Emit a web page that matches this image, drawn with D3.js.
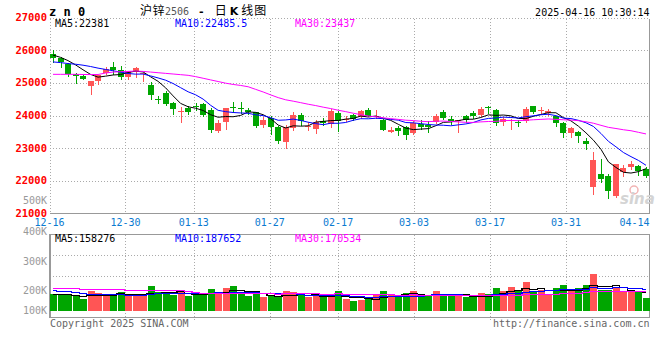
<!DOCTYPE html>
<html><head><meta charset="utf-8">
<script src="https://cdn.jsdelivr.net/npm/d3@7"></script>
<style>html,body{margin:0;padding:0;background:#fff;}svg{display:block;}</style>
</head><body><svg id="c" width="660" height="360"></svg>
<script>
// ---------- DATA ----------
const dates = ["12-16","12-17","12-18","12-19","12-20","12-23","12-24","12-25","12-26","12-27","12-30","12-31",
"01-02","01-03","01-06","01-07","01-08","01-09","01-10","01-13","01-14","01-15","01-16","01-17","01-20","01-21","01-22","01-23","01-24","01-27",
"02-05","02-06","02-07","02-10","02-11","02-12","02-13","02-14","02-17","02-18","02-19","02-20","02-21","02-24","02-25","02-26","02-27","02-28",
"03-03","03-04","03-05","03-06","03-07","03-10","03-11","03-12","03-13","03-14","03-17","03-18","03-19","03-20","03-21","03-24","03-25","03-26","03-27","03-28","03-31",
"04-01","04-02","04-03","04-07","04-08","04-09","04-10","04-11","04-14","04-15","04-16"];
const openP = [25890,25760,25580,25270,25210,24890,25050,25300,25500,25400,
25170,25330,25290,24940,24520,24690,24370,24110,24230,24290,
24360,24180,23530,23790,24260,24240,24160,24100,23720,23910,
23640,23200,23610,24020,23660,23600,23840,23740,24090,23850,
24020,23950,24170,23950,23870,23480,23630,23640,23460,23750,
23720,23800,24120,23900,23820,23970,24090,24030,24250,24170,
23800,23860,23800,23820,24280,24160,24070,23970,23770,23460,
23510,23230,21800,22200,22150,21540,22260,22420,22440,22360];
const highP = [26010,25780,25620,25300,25240,25060,25240,25470,25640,25520,
25360,25480,25300,25040,24610,24740,24420,24250,24300,24380,
24380,24230,23860,24240,24400,24400,24230,24120,23950,23970,
23680,23710,24120,24070,23790,23870,23920,24190,24140,23990,
24050,24170,24240,24170,23890,23640,23680,23680,23820,23850,
23820,24050,24170,23990,23870,24020,24150,24270,24300,24190,
23950,23890,23870,24250,24300,24250,24190,23990,23790,23660,
23540,23310,22880,22660,22210,22510,22490,22620,22490,22420];
const lowP = [25650,25500,25210,25010,25110,24650,24960,25270,25260,25130,
25110,25170,25070,24510,24380,24310,24040,23790,24050,24170,
23990,23500,23500,23600,24120,24090,24050,23640,23640,23440,
23170,22990,23560,23700,23560,23450,23720,23660,23540,23820,
23870,23920,23970,23920,23550,23480,23410,23290,23430,23580,
23480,23770,23890,23750,23510,23800,23920,23990,24070,23720,
23720,23580,23680,23790,24070,24070,24020,23680,23330,23330,
23200,22970,21600,21950,21460,21520,22150,22360,22190,22130];
const closeP = [25760,25650,25270,25200,25120,25050,25230,25420,25380,25190,
25350,25450,25300,24630,24500,24360,24210,24150,24120,24270,
24020,23560,23760,24230,24240,24220,24100,23690,23870,23640,
23230,23660,24020,23820,23690,23800,23770,24140,23840,23900,
23900,24140,23990,23990,23560,23570,23540,23410,23760,23640,
23640,23990,23920,23820,23850,23850,23990,24190,24220,23770,
23900,23870,23780,24210,24120,24180,24140,23770,23460,23630,
23360,23130,22640,22070,21700,22510,22390,22520,22290,22150];
const volume = [146000,138000,138000,124000,99000,169000,150000,138000,138000,158000,
138000,138000,127000,209000,158000,158000,138000,175000,124000,138000,
138000,183000,158000,192000,209000,144000,124000,158000,116000,124000,
116000,166000,158000,138000,116000,127000,116000,138000,169000,99000,
82000,90000,112000,138000,169000,138000,118000,150000,169000,124000,
124000,169000,146000,138000,127000,118000,118000,150000,141000,194000,
169000,200000,175000,243000,158000,177000,138000,192000,217000,169000,
192000,217000,310000,177000,177000,200000,169000,158000,158000,110000];
// moving-average values for days whose window starts before the first shown day
const ma5Lead = [25850,25780,25680,25550];
const ma10Lead = [25640,25620,25590,25570,25540,25500,25450,25410,25370];
const ma30Lead = [25260,25260,25260,25260,25255,25255,25255,25300,25330,25340,
25350,25360,25350,25330,25310,25290,25270,25250,25230,25190,
25140,25090,25040,24990,24950,24920,24880,24800,24720];
const vma5Lead = [146000,142000,140000,136000];
const vma10Lead = [175000,170000,165000,160000,150000,145000,142000,140000,140000];
const vma30Lead = [192000,192000,192000,192000,182000,182000,182000,182000,182000,182000,
175000,175000,175000,180000,180000,180000,180000,180000,165000,160000,
155000,152000,150000,150000,150000,150000,150000,149000,148000];
const dateTicks = ["12-16","12-30","01-13","01-27","02-17","03-03","03-17","03-31","04-14"];
const priceTicks = [27000,26000,25000,24000,23000,22000,21000];
const volTickLabels = ["500K","400K","300K","200K","100K"];
const volTickValues = [500000,400000,300000,200000,100000];
const priceLegend = ["MA5:22381","MA10:22485.5","MA30:23437"];
const volLegend = ["MA5:158276","MA10:187652","MA30:170534"];
const titleParts = ["沪锌","2506","-","日","K","线图"];
const symbolText = "z n 0";
const stampText = "2025-04-16 10:30:14";
const footLeft = "Copyright 2025 SINA.COM";
const footRight = "http://finance.sina.com.cn";

// ---------- LAYOUT ----------
const L = 50, R = 649.5;
const pTop = 18.5, pBot = 213.5;
const vTop = 234.5, vBot = 317.5;
const RED = "#ff5555", GREEN = "#00a600", GRID = "#aaaaaa", BORDER = "#999999";
const MONO = "'DejaVu Sans Mono', monospace";
const CJK = "'Noto Sans CJK SC', sans-serif";
const maColors = ["#000000","#0000ff","#ff00ff"];

const svg = d3.select("#c");
const xC = d3.scalePoint().domain(dates).range([53, 646]);
const xG = d3.scalePoint().domain(dates).range([49.5, 649.5]);
const yP = d3.scaleLinear().domain([21000, 27000]).range([213.5, 17.5]);
const yV = d3.scaleLinear().domain([0, 650000]).range([311, 234.1]);
const yVL = d3.scaleLinear().domain([100000,200000,300000,400000,500000]).range([310,290,261,231,200.5]);

function ma(arr, n, lead){
  return arr.map((v,i)=> i < n-1 ? lead[i] : d3.mean(arr.slice(i-n+1, i+1)));
}
const pMA = [ma(closeP,5,ma5Lead), ma(closeP,10,ma10Lead), ma(closeP,30,ma30Lead)];
const vMA = [ma(volume,5,vma5Lead), ma(volume,10,vma10Lead), ma(volume,30,vma30Lead)];
const px = v => Math.round(v) + 0.5;

// ---------- GRID ----------
const gridDates = dateTicks.slice(1, -1);
const g = svg.append("g").attr("shape-rendering","crispEdges");
priceTicks.filter(t => t < 27000 && t > 21000).forEach(t => {
  g.append("line").attr("x1",L).attr("x2",R).attr("y1",px(yP(t))).attr("y2",px(yP(t)))
   .attr("stroke",GRID).attr("stroke-dasharray","1,2");
});
gridDates.forEach(d => {
  const x = px(xG(d));
  g.append("line").attr("x1",x).attr("x2",x).attr("y1",pTop).attr("y2",pBot).attr("stroke",GRID).attr("stroke-dasharray","1,2");
  g.append("line").attr("x1",x).attr("x2",x).attr("y1",vTop).attr("y2",vBot+3).attr("stroke",GRID).attr("stroke-dasharray","1,2");
});
[1,2].forEach(k => {
  const y = px(vTop + (vBot - vTop) * k / 4);
  g.append("line").attr("x1",L).attr("x2",R).attr("y1",y).attr("y2",y).attr("stroke",GRID).attr("stroke-dasharray","1,2");
});
// borders
g.append("line").attr("x1",L).attr("x2",R).attr("y1",pTop).attr("y2",pTop).attr("stroke",GRID).attr("stroke-dasharray","1,2");
g.append("line").attr("x1",L).attr("x2",L).attr("y1",pTop).attr("y2",pBot).attr("stroke",GRID).attr("stroke-dasharray","1,2");
g.append("line").attr("x1",R).attr("x2",R).attr("y1",pTop).attr("y2",pBot).attr("stroke",BORDER);
g.append("line").attr("x1",L).attr("x2",R).attr("y1",pBot).attr("y2",pBot).attr("stroke",BORDER).attr("stroke-width",1.5);
g.append("rect").attr("x",L).attr("y",vTop).attr("width",R-L).attr("height",vBot-vTop).attr("fill","none").attr("stroke",BORDER).attr("stroke-width",1.2);

// ---------- WATERMARK ----------
const wm = svg.append("g");
wm.append("circle").attr("cx",634).attr("cy",190).attr("r",4).attr("fill","none").attr("stroke","#f2b4b4").attr("stroke-width",1.5);
wm.append("text").attr("x",620).attr("y",204).attr("font-family","'DejaVu Sans', sans-serif").attr("font-style","italic")
  .attr("font-weight","bold").attr("font-size",15).attr("fill","#d4d4d4").text("sina");

// ---------- CANDLES ----------
const cg = svg.append("g").attr("shape-rendering","crispEdges");
dates.forEach((d,i) => {
  const o = openP[i], c = closeP[i], up = c >= o;
  const col = up ? RED : GREEN;
  const r = Math.round(xC(d));
  cg.append("line").attr("x1",r+0.5).attr("x2",r+0.5).attr("y1",Math.round(yP(highP[i]))).attr("y2",Math.round(yP(lowP[i]))+1).attr("stroke",col);
  const yt = Math.round(yP(Math.max(o,c))), yb = Math.round(yP(Math.min(o,c)));
  cg.append("rect").attr("x",r-3).attr("y",yt).attr("width",6).attr("height",Math.max(1,yb-yt)).attr("fill",col);
});
// price MA lines
pMA.forEach((arr,k) => {
  svg.append("path").datum(arr).attr("fill","none").attr("stroke",maColors[k]).attr("stroke-width",1)
    .attr("d", d3.line().x((v,i)=>xC(dates[i])).y(v=>yP(v)));
});

// ---------- VOLUME ----------
const vg = svg.append("g").attr("shape-rendering","crispEdges");
dates.forEach((d,i) => {
  const col = closeP[i] >= openP[i] ? RED : GREEN;
  const r = Math.round(xC(d));
  const yt = Math.round(yV(volume[i]));
  vg.append("rect").attr("x",r-3).attr("y",yt).attr("width",7).attr("height",Math.round(yV(0))-yt).attr("fill",col);
});
vMA.forEach((arr,k) => {
  svg.append("path").datum(arr).attr("fill","none").attr("stroke",maColors[k]).attr("stroke-width",1.3)
    .attr("shape-rendering","crispEdges")
    .attr("d", d3.line().curve(d3.curveStep).x((v,i)=>xC(dates[i])).y(v=>Math.round(yV(v))+0.5));
});

// ---------- TEXT ----------
const t = svg.append("g").attr("font-family",MONO);
priceTicks.forEach(v => {
  t.append("text").attr("x",47).attr("y",yP(v)+3.5).attr("text-anchor","end").attr("font-size",10.5)
   .attr("font-weight","bold").attr("fill","#ff0000").text(d3.format("d")(v));
});
volTickLabels.forEach((s,i) => {
  t.append("text").attr("x",47).attr("y",yVL(volTickValues[i])+3.5).attr("text-anchor","end").attr("font-size",10)
   .attr("fill","#999999").text(s);
});
dateTicks.forEach((d,i) => {
  const x = xG(d);
  const last = i === dateTicks.length - 1;
  t.append("text").attr("x", last ? R : x).attr("y",225.5).attr("text-anchor", last ? "end" : "middle")
   .attr("font-size",10).attr("fill","#0a7ad0").text(d);
});
const legX = [55,175,295];
priceLegend.forEach((s,k) => t.append("text").attr("x",legX[k]).attr("y",27).attr("font-size",10).attr("fill",maColors[k]).text(s));
volLegend.forEach((s,k) => t.append("text").attr("x",legX[k]).attr("y",242).attr("font-size",10).attr("fill",maColors[k]).text(s));
t.append("text").attr("x",49).attr("y",16).attr("font-size",12).attr("font-weight","bold").attr("fill","#000").text(symbolText);
t.append("text").attr("x",R).attr("y",16).attr("text-anchor","end").attr("font-size",10).attr("fill","#000").text(stampText);
t.append("text").attr("x",L).attr("y",327).attr("font-size",10).attr("fill","#666666").text(footLeft);
t.append("text").attr("x",R).attr("y",327).attr("text-anchor","end").attr("font-size",10).attr("fill","#666666").text(footRight);
const title = svg.append("text").attr("x",140).attr("y",15).attr("font-family",CJK).attr("font-size",12).attr("fill","#000");
title.append("tspan").attr("letter-spacing",0.5).text(titleParts[0]);
title.append("tspan").attr("fill","#555").attr("font-family",MONO).attr("font-size",10).text(titleParts[1]);
title.append("tspan").attr("dx",9).attr("font-family",MONO).attr("font-weight","bold").attr("font-size",11).text(titleParts[2]);
title.append("tspan").attr("dx",10).text(titleParts[3]);
title.append("tspan").attr("dx",3).attr("font-family","'DejaVu Sans', sans-serif").attr("font-weight","bold").attr("font-size",11).text(titleParts[4]);
title.append("tspan").attr("dx",3).attr("letter-spacing",1).text(titleParts[5]);
</script>
</body></html>
